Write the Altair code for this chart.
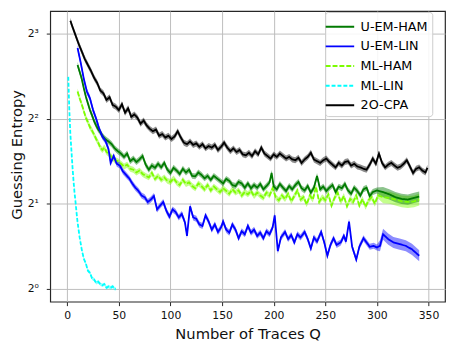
import altair as alt
import pandas as pd

names = ["U-EM-HAM", "U-EM-LIN", "ML-HAM", "ML-LIN", "2O-CPA"]
colors = ["#007a00", "#0000ff", "#7cfc00", "#00ffff", "#000000"]
dashes = [[1, 0], [1, 0], [5, 2], [4, 2], [1, 0]]
draw_order = ["ML-LIN", "ML-HAM", "U-EM-HAM", "U-EM-LIN", "2O-CPA"]

x_ticks = [0, 50, 100, 150, 200, 250, 300, 350]
y_ticks = [1, 2, 4, 8]
y_tick_labels = ["2⁰", "2¹", "2²", "2³"]

# U-EM-HAM
uem_ham_q = [10, 12, 14, 16, 18, 20, 22, 24, 26, 28, 30, 32, 34, 36, 38, 40,
             43, 46, 49, 52, 55, 58, 61, 64, 67, 70, 73, 76, 79, 82, 85, 88, 91, 94, 97, 100,
             103, 106, 109, 112, 115, 118, 121, 124, 127, 130, 133, 136, 139, 142, 145, 148,
             151, 154, 157, 160, 163, 166, 169, 172, 175, 178, 181, 184, 187, 190, 193, 196,
             198, 200,
             203, 206, 209, 212, 215, 218, 221, 224, 227, 230, 233, 236, 239, 242, 245, 248,
             251, 254, 257, 260, 263, 266, 269, 272, 275, 278, 281, 284, 287, 290, 293, 296,
             300, 306, 312, 318, 324, 330, 336, 341]
uem_ham_v = [6.19, 5.86, 5.54, 5.13, 4.79, 4.53, 4.29, 4.11, 3.92, 3.78, 3.66, 3.58, 3.48, 3.41, 3.36, 3.32,
             3.25, 3.14, 3.07, 3.01, 2.93, 3.01, 2.83, 2.89, 2.81, 2.87, 2.95, 2.75, 2.64, 2.73, 2.68, 2.77, 2.69, 2.79, 2.64, 2.57,
             2.68, 2.62, 2.55, 2.66, 2.58, 2.64, 2.51, 2.50, 2.58, 2.53, 2.46, 2.51, 2.43, 2.51, 2.46, 2.41,
             2.36, 2.45, 2.41, 2.33, 2.31, 2.39, 2.36, 2.28, 2.36, 2.27, 2.33, 2.28, 2.35, 2.25, 2.31, 2.38,
             2.57, 2.30,
             2.25, 2.35, 2.28, 2.22, 2.31, 2.25, 2.33, 2.39, 2.27, 2.23, 2.31, 2.19, 2.28, 2.51, 2.25, 2.30,
             2.22, 2.28, 2.33, 2.20, 2.30, 2.27, 2.35, 2.23, 2.17, 2.28, 2.22, 2.14, 2.25, 2.28, 2.13, 2.20,
             2.23, 2.20, 2.16, 2.11, 2.08, 2.07, 2.10, 2.12]

# U-EM-LIN
uem_lin_q = [10, 13, 16, 19, 22, 25, 28, 31, 34, 37, 40, 42, 45, 48, 51, 54, 57, 60, 63, 66,
             69, 72, 75, 78, 81, 84, 87, 90, 93, 96, 99, 102, 105, 108, 111, 114, 116, 119, 122, 125,
             128, 131, 134, 137, 140, 143, 146, 149, 151, 154, 157, 160, 163, 166, 169, 172, 175, 178, 181, 184,
             187, 190, 193, 196, 199, 201, 204, 207, 211, 214, 217, 220, 223, 226, 230, 233, 236, 239, 242, 246,
             249, 252, 255, 258, 261, 265, 268, 270, 273, 276, 280, 283, 287, 290, 293, 297, 300, 303,
             306, 311, 316, 322, 328, 334, 341]
uem_lin_v = [7.11, 6.32, 5.54, 4.99, 4.72, 4.29, 4.00, 3.68, 3.46, 3.34, 3.12, 2.79, 2.95, 2.77, 2.73, 2.60, 2.53, 2.46, 2.36, 2.28,
             2.22, 2.14, 2.11, 2.03, 2.07, 2.13, 1.91, 1.97, 2.03, 1.89, 1.80, 1.91, 1.87, 1.79, 1.84, 1.72, 1.54, 1.96, 1.79, 1.77,
             1.69, 1.67, 1.82, 1.73, 1.62, 1.69, 1.59, 1.65, 1.73, 1.62, 1.58, 1.69, 1.62, 1.51, 1.60, 1.56, 1.67, 1.58, 1.62, 1.54,
             1.58, 1.51, 1.60, 1.56, 1.65, 1.82, 1.36, 1.52, 1.59, 1.50, 1.55, 1.46, 1.56, 1.52, 1.59, 1.50, 1.39, 1.52, 1.47, 1.59,
             1.46, 1.31, 1.43, 1.51, 1.43, 1.46, 1.54, 1.47, 1.73, 1.41, 1.27, 1.41, 1.51, 1.46, 1.41, 1.42, 1.40, 1.42,
             1.56, 1.50, 1.46, 1.44, 1.42, 1.38, 1.31]

# ML-HAM
ml_ham_q = [10, 12, 14, 16, 18, 20, 22, 24, 26, 28, 30, 32, 34, 36, 38, 40,
            43, 46, 49, 52, 55, 58, 61, 64, 67, 70, 73, 76, 79, 82, 85, 88, 91, 94, 97, 100,
            103, 106, 109, 112, 115, 118, 121, 124, 127, 130, 133, 136, 139, 142, 145, 148,
            151, 154, 157, 160, 163, 166, 169, 172, 175, 178, 181, 184, 187, 190, 193, 196,
            199, 202, 205, 208, 211, 214, 217, 220, 223, 226, 229, 232, 235, 238, 241, 244,
            247, 250, 253, 256, 259, 262, 265, 268, 271, 274, 277, 280, 283, 286, 289, 292,
            295, 298, 301, 306, 312, 318, 324, 330, 336, 341]
ml_ham_v = [4.99, 4.72, 4.50, 4.26, 4.03, 3.89, 3.73, 3.63, 3.51, 3.39, 3.29, 3.16, 3.10, 3.16, 3.05, 3.01,
            2.93, 2.85, 2.83, 2.77, 2.71, 2.75, 2.66, 2.64, 2.58, 2.62, 2.55, 2.51, 2.48, 2.57, 2.45, 2.51, 2.43, 2.48, 2.41, 2.39,
            2.46, 2.38, 2.33, 2.43, 2.35, 2.38, 2.31, 2.27, 2.36, 2.31, 2.25, 2.33, 2.23, 2.30, 2.25, 2.20,
            2.27, 2.22, 2.17, 2.25, 2.19, 2.23, 2.14, 2.20, 2.16, 2.22, 2.13, 2.19, 2.14, 2.10, 2.19, 2.14,
            2.27, 2.11, 2.06, 2.14, 2.08, 2.17, 2.04, 2.13, 2.23, 2.07, 2.11, 1.99, 2.14, 2.07, 2.30, 2.03,
            2.11, 2.06, 2.16, 1.97, 2.10, 2.19, 2.03, 2.13, 1.96, 2.08, 2.03, 2.14, 1.97, 2.08, 1.95, 2.06,
            2.11, 2.00, 2.14, 2.11, 2.10, 2.07, 2.04, 2.03, 2.04, 2.07]

# ML-LIN
ml_lin_q = [1, 2, 3, 4, 5, 6, 7, 8, 9, 10, 12, 14, 16, 18, 20, 22, 24, 26, 28, 30,
            32, 34, 36, 38, 40, 42, 44, 46, 47]
ml_lin_v = [5.62, 4.29, 3.53, 3.10, 2.72, 2.43, 2.20, 2.03, 1.86, 1.72, 1.52, 1.38, 1.28, 1.23, 1.16, 1.14, 1.09, 1.08, 1.05, 1.06,
            1.04, 1.03, 1.04, 1.01, 1.02, 1.01, 1.02, 1.00, 1.00]

# 2O-CPA
cpa_q = [3, 5, 8, 11, 14, 17, 20, 23, 26, 29, 32, 35, 38, 41, 44, 47, 50, 53, 56, 59,
         62, 65, 68, 71, 74, 77, 80, 83, 86, 89, 92, 95, 98, 101, 104, 107, 110, 113, 116, 119,
         122, 125, 128, 131, 134, 137, 140, 143, 146, 149, 152, 155, 158, 161, 164, 167, 170, 173, 176, 179,
         182, 185, 188, 191, 194, 197, 200, 203, 206, 209, 212, 215, 218, 221, 224, 227, 230, 233, 236, 239,
         242, 245, 248, 251, 254, 257, 260, 263, 266, 269, 272, 275, 278, 281, 284, 287, 290, 293, 296, 299,
         302, 305, 308, 311, 314, 317, 320, 323, 326, 329, 332, 335, 338, 341, 344, 347, 349]
cpa_v = [8.88, 8.46, 7.89, 7.36, 6.92, 6.50, 6.19, 5.90, 5.58, 5.35, 5.03, 4.92, 4.66, 4.76, 4.47, 4.41, 4.29, 4.50, 4.20, 4.35,
         4.06, 4.14, 4.03, 3.84, 3.94, 3.78, 3.68, 3.61, 3.66, 3.48, 3.53, 3.43, 3.48, 3.39, 3.46, 3.61, 3.43, 3.29, 3.25, 3.32,
         3.23, 3.27, 3.18, 3.25, 3.14, 3.20, 3.16, 3.23, 3.10, 3.18, 3.29, 3.16, 3.07, 3.14, 3.05, 3.10, 2.99, 2.97, 3.03, 2.95,
         3.07, 2.99, 3.16, 3.01, 2.95, 2.89, 2.99, 2.93, 3.01, 2.95, 2.89, 2.93, 2.87, 2.85, 2.91, 2.79, 2.87, 2.93, 3.03, 2.87,
         2.83, 2.79, 2.85, 2.89, 2.81, 2.75, 2.69, 2.79, 2.73, 2.81, 2.83, 2.73, 2.77, 2.71, 2.69, 2.66, 2.64, 2.75, 2.89, 2.77,
         3.01, 2.79, 2.69, 2.75, 2.79, 2.73, 2.68, 2.71, 2.77, 2.85, 2.71, 2.57, 2.66, 2.69, 2.62, 2.58, 2.68]

# confidence band half-width (log2 units): main part, tail part, tail start
band_main = {"U-EM-HAM": 0.035, "U-EM-LIN": 0.035, "ML-HAM": 0.035, "ML-LIN": 0.02, "2O-CPA": 0.035}
band_tail = {"U-EM-HAM": 0.06, "U-EM-LIN": 0.065, "ML-HAM": 0.07, "ML-LIN": 0.02, "2O-CPA": 0.035}
tail_start = 302

series = {
    "U-EM-HAM": (uem_ham_q, uem_ham_v),
    "U-EM-LIN": (uem_lin_q, uem_lin_v),
    "ML-HAM": (ml_ham_q, ml_ham_v),
    "ML-LIN": (ml_lin_q, ml_lin_v),
    "2O-CPA": (cpa_q, cpa_v),
}

rows = []
for name, (qs, vs) in series.items():
    assert len(qs) == len(vs), name
    for q, v in zip(qs, vs):
        s = band_tail[name] if q >= tail_start else band_main[name]
        rows.append({"series": name, "q": q, "ge": v, "lo": v * 2 ** (-s), "hi": v * 2 ** s})
df = pd.DataFrame(rows)

FONT = "DejaVu Sans"
label_expr = " : ".join(
    f"datum.value == {t} ? '{l}'" for t, l in zip(y_ticks[:-1], y_tick_labels[:-1])
) + f" : '{y_tick_labels[-1]}'"

x_enc = alt.X("q:Q",
              scale=alt.Scale(domain=[-16.5, 366], nice=False, zero=False),
              axis=alt.Axis(values=x_ticks, title="Number of Traces Q",
                            labelPadding=4, titlePadding=6))
y_scale = alt.Scale(type="log", base=2, domain=[0.901, 9.61], nice=False)
y_axis = alt.Axis(values=y_ticks, labelExpr=label_expr, title="Guessing Entropy",
                  labelPadding=8, titleX=-34, titleY=146, titleBaseline="middle",
                  titleAlign="center", titleAngle=270)
color_scale = alt.Scale(domain=names, range=colors)
dash_scale = alt.Scale(domain=names, range=dashes)

legend = alt.Legend(title=None, orient="none", legendX=280, legendY=1,
                    symbolType="M-1.5,0H1.5", symbolSize=374, symbolStrokeWidth=2,
                    labelFontSize=13, labelFont=FONT, labelOffset=10,
                    padding=4, rowPadding=2, fillColor="rgba(255,255,255,0.85)",
                    strokeColor="#cccccc", cornerRadius=3)

base = alt.Chart(df)
layers = []
for name in draw_order:
    layers.append(
        base.transform_filter(alt.datum.series == name).mark_area(opacity=0.45).encode(
            x=x_enc,
            y=alt.Y("lo:Q", scale=y_scale, axis=y_axis),
            y2="hi:Q",
            color=alt.value(colors[names.index(name)]),
        )
    )
for name in draw_order:
    layers.append(
        base.transform_filter(alt.datum.series == name).mark_line(strokeWidth=1.8).encode(
            x=x_enc,
            y=alt.Y("ge:Q", scale=y_scale, axis=y_axis),
            color=alt.Color("series:N", scale=color_scale, legend=legend),
            strokeDash=alt.StrokeDash("series:N", scale=dash_scale, legend=legend),
        )
    )

chart = alt.layer(*layers).properties(
    width=402, height=296,
    autosize=alt.AutoSizeParams(type="none"),
    padding={"left": 43, "top": 0, "right": 1, "bottom": 40},
).configure_view(
    stroke="#262626", strokeWidth=1.2
).configure_axis(
    domain=False, grid=True, gridColor="#bdbdbd", gridWidth=1,
    tickColor="#262626", tickSize=4, labelFontSize=11, labelFont=FONT, labelColor="#111111",
    titleFont=FONT, titleFontSize=15, titleFontWeight="normal", titleColor="#111111",
)

chart.save("out.html", embed_options={"renderer": "svg", "actions": False})
